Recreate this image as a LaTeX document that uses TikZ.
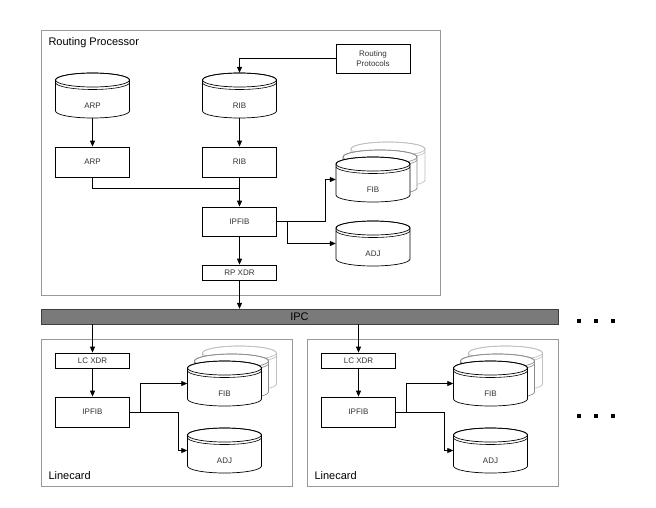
\documentclass[tikz,border=0pt]{standalone}
\usepackage{fontspec}
\setmainfont{Liberation Sans}
\usetikzlibrary{arrows.meta}

% one drum of a database: colour, centre x, top y
\newcommand{\dbshape}[3]{%
  \filldraw[#1,fill=white,line width=0.7pt] ({#2-37},{-(#3)-7}) -- ({#2-37},{-(#3)-38})
    arc (180:360:37 and 7) -- ({#2+37},{-(#3)-7}) arc (0:180:37 and 7) -- cycle;
  \draw[#1,line width=0.7pt] ({#2},{-(#3)-7}) ellipse (37 and 7);
  \draw[#1,line width=0.6pt] ({#2-37},{-(#3)-9.5}) arc (180:360:37 and 7);}
% database with a name: name, centre x, top y, text
\newcommand{\dbcyl}[4]{%
  \dbshape{black}{#2}{#3}
  \node[inner sep=0pt,minimum width=74pt,minimum height=45pt] (#1) at ({#2},{-(#3)-22.5}) {};
  \node[lbl] (#1-txt) at ({#2},{-(#3)-33}) {#4};}
% copies stacked behind a table
\newcommand{\dbback}[2]{%
  \dbshape{black!25}{#1+15}{#2-15}
  \dbshape{black!45}{#1+7}{#2-7}}

\begin{document}
\begin{tikzpicture}[x=1pt,y=1pt,
    box/.style={draw,fill=white,line width=0.8pt,minimum width=74pt,inner sep=1pt,
      font=\fontsize{8}{9.5}\selectfont,text=black!80,align=center},
    lbl/.style={font=\fontsize{8}{9.5}\selectfont,text=black!80},
    frame/.style={draw=black!40,line width=1pt},
    title/.style={anchor=base west,font=\fontsize{11}{13}\selectfont},
    link/.style={line width=0.8pt,-{Triangle[length=6pt,width=5pt]}}]
    \useasboundingbox (0,0) rectangle (656,-507);

    % Routing processor
    \draw[frame] (41,-30) rectangle (440,-295);
    \node[title] (rptitle) at (45,-45) {Routing Processor};
    \node[box,minimum height=29pt] (rproto) at (373,-58.5) {Routing\\Protocols};
    \dbcyl{arpdb}{92.5}{73}{ARP}
    \dbcyl{ribdb}{239.5}{73}{RIB}
    \node[box,minimum height=30pt] (arp) at (92.5,-162) {ARP};
    \node[box,minimum height=30pt] (rib) at (239.5,-162) {RIB};
    \node[box,minimum height=29pt] (ipfib) at (239.5,-221.5) {IPFIB};
    \node[box,minimum height=15pt] (rpxdr) at (239.5,-272.5) {RP XDR};
    \dbback{373}{157}
    \dbcyl{fib}{373}{157}{FIB}
    \dbcyl{adj}{373}{221}{ADJ}
    \coordinate (merge) at (239.5,-188);

    \draw[link] (rproto.west) -| (ribdb.north);
    \draw[link] (arpdb.south) -- (arp.north);
    \draw[link] (ribdb.south) -- (rib.north);
    \draw[line width=0.8pt] (arp.south) |- (merge);
    \draw[link] (rib.south) -- (ipfib.north);
    \draw[link] (ipfib.east) -- ++(48,0) |- (fib.west);
    \draw[link] (ipfib.east) ++(10,0) |- (adj.west);
    \draw[link] (ipfib.south) -- (rpxdr.north);

    % IPC bus
    \node[draw=black!75,fill=black!52,minimum width=517pt,minimum height=15pt,inner sep=0pt,
      font=\fontsize{11}{13}\selectfont] (ipc) at (299.5,-316.5) {IPC};
    \draw[link] (rpxdr.south) -- (rpxdr.south |- ipc.north);

    % Linecards
    \foreach \i/\dx in {1/0,2/266} {
        \draw[frame] ({41+\dx},-339) rectangle ({292+\dx},-486);
        \node[title] (lctitle\i) at ({45+\dx},-479) {Linecard};
        \node[box,minimum height=15pt] (lcxdr\i) at ({92.5+\dx},-360.5) {LC XDR};
        \node[box,minimum height=30pt] (lcipfib\i) at ({92.5+\dx},-412) {IPFIB};
        \dbback{224.5+\dx}{361}
        \dbcyl{lcfib\i}{224.5+\dx}{361}{FIB}
        \dbcyl{lcadj\i}{224.5+\dx}{428}{ADJ}
        \draw[link] (ipc.south -| lcxdr\i.north) -- (lcxdr\i.north);
        \draw[link] (lcxdr\i.south) -- (lcipfib\i.north);
        \draw[link] (lcipfib\i.east) -- ++(10,0) |- (lcfib\i.west);
        \draw[link] (lcipfib\i.east) -- ++(48,0) |- (lcadj\i.west);
    }

    % more linecards
    \foreach \y in {321,416}
        \foreach \x in {579,596,613}
            \fill (\x-2,-\y+2) rectangle +(4,-4);
\end{tikzpicture}
\end{document}
